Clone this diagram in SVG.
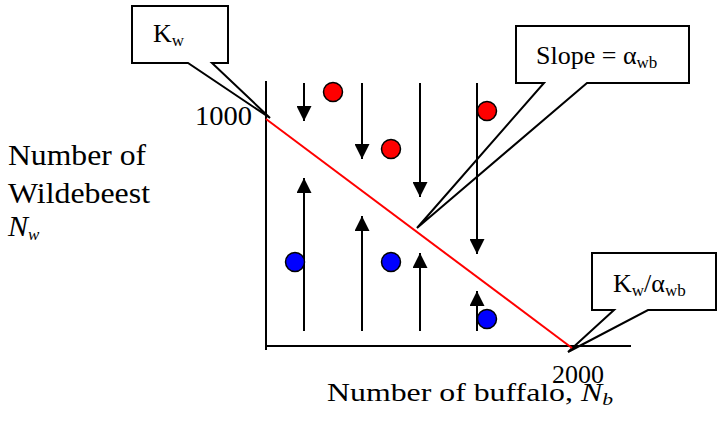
<svg xmlns="http://www.w3.org/2000/svg" width="720" height="438" viewBox="0 0 720 438" font-family="'Liberation Serif', 'DejaVu Serif', serif">
<style>
text{font-family:'Liberation Serif','DejaVu Serif',serif;fill:#000}
.lbl{font-size:30px}
.ax{font-size:25px}
.call{font-size:26px}
.sub{font-size:17px}
.callout{fill:#fff;stroke:#000;stroke-width:2;stroke-linejoin:miter}
.axis{stroke:#000;stroke-width:2;fill:none}
.arr{stroke:#000;stroke-width:2;fill:none}
.red{fill:#f00;stroke:#000;stroke-width:1.5}
.blue{fill:#00f;stroke:#000;stroke-width:1.5}
</style>
<defs>
<marker id="ah" viewBox="0 0 10 10" refX="10" refY="5" markerWidth="7.5" markerHeight="7.5" markerUnits="strokeWidth" orient="auto">
<path d="M0,0 L10,5 L0,10 Z" fill="#000"/>
</marker>
</defs>
<rect width="720" height="438" fill="#fff"/>

<g id="callout-kw">
<path class="callout" d="M132,6 H228 V63 H212 L270,118 L188,63 H132 Z"/>
<text class="call" x="153" y="42" font-family="'Liberation Serif', serif">K<tspan class="sub" dy="4">w</tspan></text>
</g>
<g id="callout-slope">
<path class="callout" d="M516,26 H689 V83 H587 L417,228 L544,83 H516 Z"/>
<text class="call" x="536" y="64" font-family="'Liberation Serif', serif">Slope = α<tspan class="sub" dy="4">wb</tspan></text>
</g>
<g id="callout-kwa">
<path class="callout" d="M592,253 H716 V310 H648 L568,352 L614,310 H592 Z"/>
<text class="call" x="613" y="292" font-family="'Liberation Serif', serif">K<tspan class="sub" dy="4">w</tspan><tspan dy="-4">/α</tspan><tspan class="sub" dy="4">wb</tspan></text>
</g>

<g id="axes">
<path class="axis" d="M266,81 V350"/>
<path class="axis" d="M266,346 H631"/>
</g>

<g id="isocline">
<line x1="266" y1="119" x2="572" y2="348" stroke="#f00" stroke-width="2"/>
</g>

<g id="connectors">
<line class="arr" x1="304" y1="83" x2="304" y2="121" marker-end="url(#ah)"/>
<line class="arr" x1="362" y1="83" x2="362" y2="159" marker-end="url(#ah)"/>
<line class="arr" x1="420" y1="83" x2="420" y2="197" marker-end="url(#ah)"/>
<line class="arr" x1="477" y1="83" x2="477" y2="254" marker-end="url(#ah)"/>
<line class="arr" x1="304" y1="331" x2="304" y2="178" marker-end="url(#ah)"/>
<line class="arr" x1="362" y1="331" x2="362" y2="216" marker-end="url(#ah)"/>
<line class="arr" x1="420" y1="331" x2="420" y2="253" marker-end="url(#ah)"/>
<line class="arr" x1="477" y1="331" x2="477" y2="291" marker-end="url(#ah)"/>
</g>

<g id="dot-r1"><circle class="red" cx="333" cy="92" r="9.5"/></g>
<g id="dot-r2"><circle class="red" cx="391" cy="149" r="9.5"/></g>
<g id="dot-r3"><circle class="red" cx="487" cy="111" r="9.5"/></g>
<g id="dot-b1"><circle class="blue" cx="295" cy="262" r="9.5"/></g>
<g id="dot-b2"><circle class="blue" cx="391" cy="262" r="9.5"/></g>
<g id="dot-b3"><circle class="blue" cx="487" cy="319" r="9.5"/></g>

<g id="labels" font-family="'Liberation Serif', serif">
<text style="font-size:27px" x="195" y="125" textLength="57" lengthAdjust="spacingAndGlyphs">1000</text>
<text class="ax" x="552" y="383" textLength="52" lengthAdjust="spacingAndGlyphs">2000</text>
<text class="lbl" x="8" y="165" textLength="138" lengthAdjust="spacingAndGlyphs">Number of</text>
<text class="lbl" x="8" y="203" textLength="142" lengthAdjust="spacingAndGlyphs">Wildebeest</text>
<text class="lbl" x="8" y="236"><tspan font-style="italic">N</tspan><tspan class="sub" font-style="italic" dy="4">w</tspan></text>
<text class="ax" x="327" y="401" textLength="286" lengthAdjust="spacingAndGlyphs">Number of buffalo, <tspan font-style="italic">N</tspan><tspan class="sub" font-style="italic" dy="4">b</tspan></text>
</g>
</svg>
